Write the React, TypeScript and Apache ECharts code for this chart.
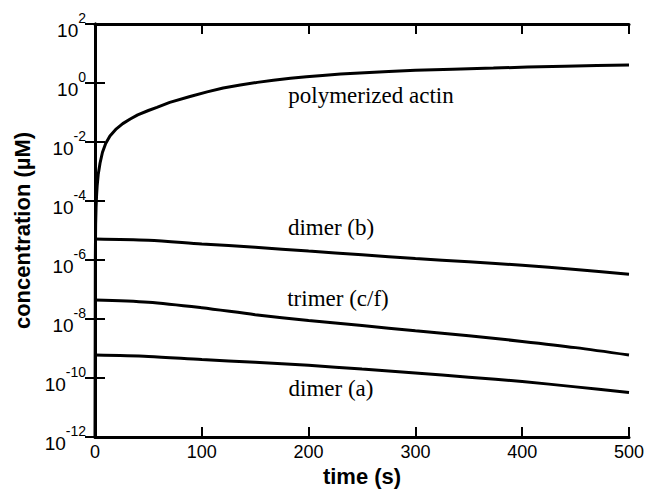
import React, { useEffect, useRef } from "react";
import * as echarts from "echarts";

// time (s) for polymerized actin curve
const actinTime = [0, 0.3, 0.6, 1, 1.5, 2, 3, 4.7, 7, 10, 14, 20, 26, 33, 40, 50, 58, 70, 89, 105, 120, 136, 152, 167, 183, 198, 213, 230, 248, 275, 300, 335, 373, 405, 440, 470, 500];
// concentration (µM)
const polymerizedActin = [1e-12, 1e-6, 1.6e-5, 6.3e-5, 1.6e-4, 3.2e-4, 7.9e-4, 1.9e-3, 4.5e-3, 8.9e-3, 1.6e-2, 2.8e-2, 4.2e-2, 6.0e-2, 8.3e-2, 0.117, 0.15, 0.22, 0.35, 0.5, 0.68, 0.85, 1.05, 1.23, 1.45, 1.62, 1.8, 2.0, 2.2, 2.45, 2.7, 2.95, 3.2, 3.47, 3.7, 3.9, 4.1];

// time (s) for oligomer curves
const oligoTime = [0, 50, 100, 150, 200, 250, 300, 350, 400, 450, 500];
const dimerB = [5.2e-6, 4.7e-6, 3.5e-6, 2.7e-6, 2.0e-6, 1.5e-6, 1.12e-6, 8.7e-7, 6.6e-7, 4.8e-7, 3.3e-7];
const trimerCF = [4.4e-8, 3.7e-8, 2.4e-8, 1.4e-8, 8.9e-9, 6.0e-9, 4.0e-9, 2.7e-9, 1.74e-9, 1.07e-9, 6.0e-10];
const dimerA = [6.0e-10, 5.4e-10, 4.2e-10, 3.4e-10, 2.7e-10, 2.0e-10, 1.48e-10, 1.07e-10, 7.6e-11, 5.0e-11, 3.2e-11];

const xTicks = [0, 100, 200, 300, 400, 500];
const yTicks = [1e-12, 1e-10, 1e-8, 1e-6, 1e-4, 1e-2, 1, 1e2];
const curveLabels = ["polymerized actin", "dimer (b)", "trimer (c/f)", "dimer (a)"];

const pair = (xs: number[], ys: number[]) => xs.map((x, i) => [x, ys[i]]);

export default function App() {
  const ref = useRef<HTMLDivElement>(null);
  useEffect(() => {
    if (!ref.current) return;
    const chart = echarts.init(ref.current, null, { renderer: "svg" });
    const sans = "Liberation Sans, Arial, sans-serif";
    const serif = "Liberation Serif, Times New Roman, serif";
    const lineStyle = { color: "#000", width: 3 };
    const mkSeries = (name: string, data: number[][], smooth: number | boolean) => ({
      name,
      type: "line",
      data,
      showSymbol: false,
      smooth,
      lineStyle,
      xAxisIndex: 0,
      yAxisIndex: 0,
    });
    const yCommon = {
      type: "log",
      logBase: 10,
      min: 1e-12,
      max: 1e2,
      axisLine: { show: true, lineStyle: { color: "#000", width: 3 } },
      axisTick: { show: true, inside: true, length: 10, customValues: yTicks, lineStyle: { color: "#000", width: 2 } },
      splitLine: { show: false },
      minorTick: { show: false },
    };
    const xCommon = {
      type: "value",
      min: 0,
      max: 500,
      interval: 100,
      axisLine: { show: true, lineStyle: { color: "#000", width: 3 } },
      axisTick: { show: true, inside: true, length: 10, customValues: xTicks, lineStyle: { color: "#000", width: 2 } },
      splitLine: { show: false },
    };
    const labelStyle = (size: number) => ({ fontFamily: sans, fontSize: size, color: "#000" });
    chart.setOption({
      animation: false,
      backgroundColor: "#fff",
      grid: { left: 95, right: 19, top: 24, bottom: 56, containLabel: false },
      xAxis: [
        {
          ...xCommon,
          position: "bottom",
          name: "time (s)",
          nameLocation: "middle",
          nameGap: 25,
          nameTextStyle: { fontFamily: sans, fontWeight: "bold", fontSize: 22, color: "#000", verticalAlign: "top" },
          axisLabel: {
            ...labelStyle(18),
            margin: 6,
            customValues: xTicks,
          },
        },
        {
          ...xCommon,
          position: "top",
          axisLabel: { show: false },
        },
      ],
      yAxis: [
        {
          ...yCommon,
          position: "left",
          name: "concentration (\u00b5M)",
          nameLocation: "middle",
          nameGap: 62,
          nameTextStyle: { fontFamily: sans, fontWeight: "bold", fontSize: 22, color: "#000" },
          axisLabel: {
            margin: 9,
            hideOverlap: false,
            customValues: yTicks,
            formatter: (v: number) => {
              const e = Math.round(Math.log10(v));
              return `{b|10}{s|${e}}`;
            },
            rich: {
              b: { ...labelStyle(19), padding: [12, 0, 0, 0] },
              s: { ...labelStyle(14), padding: [0, 0, 12, 0] },
            },
          },
        },
        {
          ...yCommon,
          position: "right",
          axisLabel: { show: false },
        },
      ],
      series: [
        mkSeries("polymerized actin", pair(actinTime, polymerizedActin), false),
        mkSeries("dimer (b)", pair(oligoTime, dimerB), 0.3),
        mkSeries("trimer (c/f)", pair(oligoTime, trimerCF), 0.3),
        mkSeries("dimer (a)", pair(oligoTime, dimerA), 0.3),
      ],
      graphic: [
        { type: "text", x: 371, y: 95, style: { text: curveLabels[0], font: `23px ${serif}`, fill: "#000", align: "center", verticalAlign: "middle" } },
        { type: "text", x: 331, y: 227, style: { text: curveLabels[1], font: `23px ${serif}`, fill: "#000", align: "center", verticalAlign: "middle" } },
        { type: "text", x: 338, y: 298, style: { text: curveLabels[2], font: `23px ${serif}`, fill: "#000", align: "center", verticalAlign: "middle" } },
        { type: "text", x: 331, y: 388, style: { text: curveLabels[3], font: `23px ${serif}`, fill: "#000", align: "center", verticalAlign: "middle" } },
      ],
    });
    return () => chart.dispose();
  }, []);
  return (
    <div
      ref={ref}
      style={{ position: "fixed", left: 0, top: 0, width: 648, height: 493, background: "#fff" }}
    />
  );
}
